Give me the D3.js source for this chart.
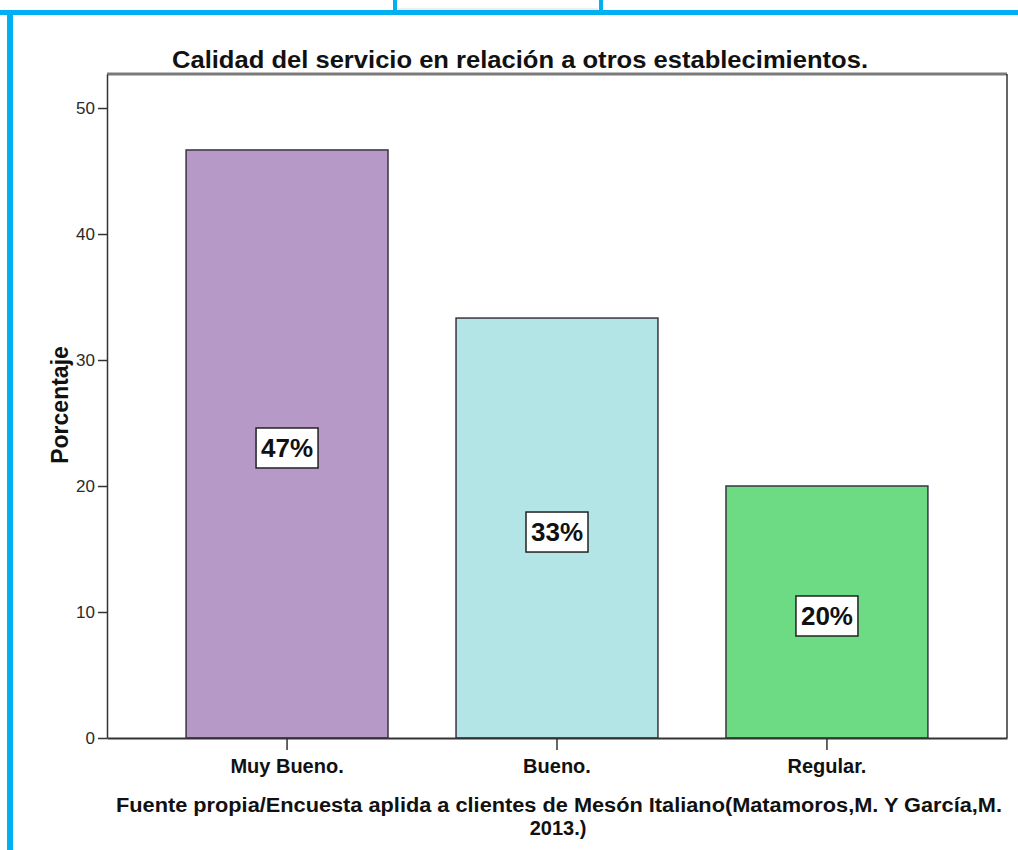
<!DOCTYPE html>
<html>
<head>
<meta charset="utf-8">
<script src="https://cdn.jsdelivr.net/npm/d3@7"></script>
<style>
  html, body { margin: 0; padding: 0; background: #fff; }
  svg { display: block; }
  text { font-family: "Liberation Sans", Arial, sans-serif; }
</style>
</head>
<body>
<svg id="chart" width="1018" height="850"></svg>
<script>
// Survey results: perceived service quality compared with other establishments
const categories = ["Muy Bueno.", "Bueno.", "Regular."];
const percentages = [46.67, 33.33, 20.0];
const valueLabels = ["47%", "33%", "20%"];
const barColors = ["#b799c8", "#b3e5e7", "#6ddb84"];
const yTicks = [0, 10, 20, 30, 40, 50];

const titleText = "Calidad del servicio en relación a otros establecimientos.";
const yAxisTitle = "Porcentaje";
const sourceLines = [
  "Fuente propia/Encuesta aplida a clientes de Mesón Italiano(Matamoros,M. Y García,M.",
  "2013.)"
];

const svg = d3.select("#chart");

// Page frame: blue rules and the small tab at the top
const frameBlue = "#00b0f0";
svg.append("rect").attr("x", 0).attr("y", 10).attr("width", 1018).attr("height", 5).attr("fill", frameBlue);
svg.append("rect").attr("x", 7).attr("y", 10).attr("width", 6).attr("height", 840).attr("fill", frameBlue);
svg.append("rect").attr("x", 393).attr("y", 0).attr("width", 4).attr("height", 12).attr("fill", frameBlue);
svg.append("rect").attr("x", 599).attr("y", 0).attr("width", 4).attr("height", 12).attr("fill", frameBlue);
svg.append("line").attr("x1", 398).attr("x2", 598).attr("y1", 9).attr("y2", 9)
  .attr("stroke", "#d8dde0").attr("stroke-width", 1);

// Plot area
const plot = { left: 107, right: 1007, top: 74, bottom: 738 };

const y = d3.scaleLinear()
  .domain([0, 52.7])
  .range([plot.bottom, plot.top]);

const x = d3.scaleBand()
  .domain(categories)
  .range([plot.left, plot.right])
  .paddingInner(0.252)
  .paddingOuter(0.293);

// Plot frame
svg.append("line").attr("x1", plot.left).attr("x2", plot.right)
  .attr("y1", plot.top).attr("y2", plot.top)
  .attr("stroke", "#7a7a7a").attr("stroke-width", 3);
svg.append("line").attr("x1", plot.right).attr("x2", plot.right)
  .attr("y1", plot.top).attr("y2", plot.bottom)
  .attr("stroke", "#333").attr("stroke-width", 1.5);

// Bars
svg.append("g").selectAll("rect")
  .data(categories)
  .join("rect")
  .attr("x", d => x(d))
  .attr("width", x.bandwidth())
  .attr("y", (d, i) => y(percentages[i]))
  .attr("height", (d, i) => y(0) - y(percentages[i]))
  .attr("fill", (d, i) => barColors[i])
  .attr("stroke", "#3a3340")
  .attr("stroke-width", 1.5);

// Y axis
const yAxis = d3.axisLeft(y).tickValues(yTicks).tickSize(9).tickSizeOuter(0).tickPadding(3);
const gy = svg.append("g")
  .attr("transform", `translate(${plot.left},0)`)
  .call(yAxis);
gy.select(".domain").attr("stroke", "#333").attr("stroke-width", 1.5);
gy.selectAll(".tick line").attr("stroke", "#333").attr("stroke-width", 1.5);
gy.selectAll(".tick text")
  .attr("fill", "#2a2a2a")
  .style("font-size", "17px")
  .attr("dy", "0.35em");

// X axis
const xAxis = d3.axisBottom(x).tickSize(12).tickPadding(6).tickSizeOuter(0);
const gx = svg.append("g")
  .attr("transform", `translate(0,${plot.bottom})`)
  .call(xAxis);
gx.select(".domain").attr("stroke", "#333").attr("stroke-width", 2);
gx.selectAll(".tick line").attr("stroke", "#333").attr("stroke-width", 1.5);
gx.selectAll(".tick text")
  .attr("fill", "#111")
  .style("font-size", "20px")
  .style("font-weight", "bold")
  .attr("dy", "0.85em");

// Boxed value labels centred on each bar
const labelG = svg.append("g").selectAll("g")
  .data(categories)
  .join("g")
  .attr("transform", (d, i) =>
    `translate(${x(d) + x.bandwidth() / 2},${y(percentages[i] / 2) + 4})`);
labelG.append("rect")
  .attr("x", -31).attr("y", -20)
  .attr("width", 62).attr("height", 40)
  .attr("fill", "#fff")
  .attr("stroke", "#222")
  .attr("stroke-width", 1.5);
labelG.append("text")
  .attr("text-anchor", "middle")
  .attr("dy", "0.36em")
  .style("font-size", "26px")
  .style("font-weight", "bold")
  .attr("fill", "#111")
  .text((d, i) => valueLabels[i]);

// Title
svg.append("text")
  .attr("x", 520).attr("y", 68)
  .attr("text-anchor", "middle")
  .attr("textLength", 696)
  .attr("lengthAdjust", "spacingAndGlyphs")
  .style("font-size", "24px")
  .style("font-weight", "bold")
  .attr("fill", "#111")
  .text(titleText);

// Y axis title
svg.append("text")
  .attr("transform", `translate(68,405) rotate(-90)`)
  .attr("text-anchor", "middle")
  .style("font-size", "23px")
  .style("font-weight", "bold")
  .attr("fill", "#111")
  .text(yAxisTitle);

// Source note
svg.append("text")
  .attr("x", 559).attr("y", 812)
  .attr("text-anchor", "middle")
  .attr("textLength", 886)
  .attr("lengthAdjust", "spacingAndGlyphs")
  .style("font-size", "20px")
  .style("font-weight", "bold")
  .attr("fill", "#111")
  .text(sourceLines[0]);
svg.append("text")
  .attr("x", 558).attr("y", 835)
  .attr("text-anchor", "middle")
  .style("font-size", "20px")
  .style("font-weight", "bold")
  .attr("fill", "#111")
  .text(sourceLines[1]);
</script>
</body>
</html>
